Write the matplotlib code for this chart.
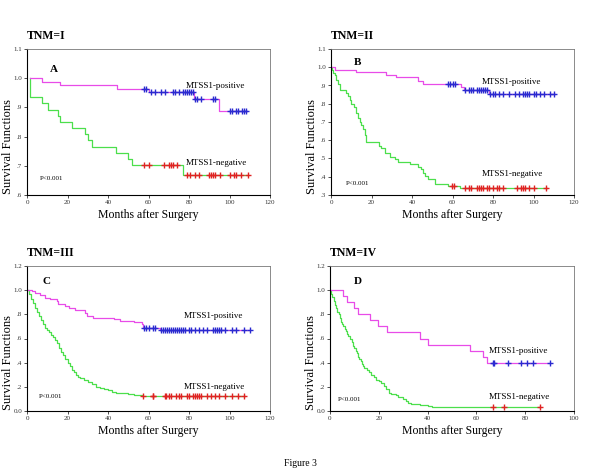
import matplotlib
matplotlib.use("Agg")
import matplotlib.pyplot as plt
import numpy as np

plt.rcParams['font.family'] = ['Liberation Serif', 'DejaVu Serif']

# ---- data ----
# panel A, TNM=I
A_pos_t = [1.5, 7.5, 16.3, 44.5, 60.0, 82.5, 95.0]
A_pos_s = [1.0, 0.988, 0.976, 0.964, 0.952, 0.929, 0.889]
A_pos_end = 108.5
A_pos_cens = [58, 59, 61, 63, 66, 68, 72, 73, 75, 77, 78, 79, 80, 81, 82,
              83, 84, 86, 92, 93, 100, 101, 103, 104, 106, 107, 108]
A_neg_t = [1.5, 1.6, 7.6, 10.5, 15.1, 16.3, 22.2, 28.6, 30.3, 31.9, 43.8,
           49.7, 51.7, 76.9]
A_neg_s = [1.0, 0.935, 0.914, 0.892, 0.870, 0.850, 0.830, 0.808, 0.788,
           0.766, 0.745, 0.723, 0.702, 0.667]
A_neg_end = 109.0
A_neg_cens = [58, 60, 67.5, 70, 71, 72, 74, 79, 80.5, 83, 85, 90, 91, 92,
              93, 95.5, 100, 102, 103, 105.5, 109]

# panel B, TNM=II
B_pos_t = [0, 1.8, 12.5, 27.3, 32.0, 43.0, 45.4, 64.0, 65.5, 78.0]
B_pos_s = [1.0, 0.986, 0.972, 0.958, 0.944, 0.925, 0.910, 0.890, 0.875, 0.853]
B_pos_end = 110.5
B_pos_cens = [58, 59, 60, 61, 66, 68, 69, 70, 72, 73, 74, 75, 76, 77, 78.5,
              80, 81, 83, 85, 88, 91, 93, 95, 96, 97, 98, 100, 101, 103, 105,
              108, 110]
B_neg_t = [0, 0.5, 1.0, 1.8, 2.6, 3.5, 4.3, 7.6, 8.4, 9.2, 10.0, 11.4, 12.5,
           13.3, 14.2, 15.0, 15.8, 16.6, 17.5, 23.8, 24.5, 26.5, 29.0, 31.4,
           33.1, 38.9, 43.0, 44.2, 45.4, 46.6, 47.9, 51.2, 58.0, 63.5]
B_neg_s = [1.0, 0.985, 0.97, 0.955, 0.93, 0.91, 0.877, 0.86, 0.84, 0.82,
           0.80, 0.78, 0.75, 0.72, 0.70, 0.685, 0.66, 0.63, 0.592, 0.57,
           0.555, 0.53, 0.51, 0.497, 0.483, 0.468, 0.455, 0.44, 0.42, 0.405,
           0.39, 0.36, 0.347, 0.336]
B_neg_end = 106.5
B_neg_cens = [59.7, 60.5, 66, 68, 69, 72, 73, 74, 75, 77, 78, 80, 82, 83, 85,
              92, 94, 95, 96, 98, 100, 106]

# panel C, TNM=III
C_pos_t = [0, 2.3, 4.0, 6.4, 8.9, 11.4, 14.6, 15.5, 18.8, 20.5, 23.7, 28.6,
           29.5, 32.8, 43.0, 46.0, 53.0, 56.6, 57.4, 65.7]
C_pos_s = [1.0, 0.989, 0.978, 0.964, 0.939, 0.93, 0.908, 0.885, 0.866, 0.852,
           0.838, 0.81, 0.785, 0.77, 0.76, 0.746, 0.737, 0.72, 0.69, 0.668]
C_pos_end = 110.0
C_pos_cens = [58, 59, 60, 62, 63, 66, 67, 68, 69, 70, 71, 72, 73, 74, 75, 76,
              77, 78, 80, 81, 83, 85, 87, 89, 92, 93, 94, 95, 96, 98, 101,
              103, 107, 110]
C_neg_t = [0, 1, 2, 3, 4, 5, 6, 7, 8, 9, 10, 11, 12, 13, 14, 15, 16, 17, 18,
           19, 20, 21, 22, 23, 24, 25, 26, 28, 30, 32, 34, 36, 38, 40, 42, 44,
           47, 50, 53, 57]
C_neg_s = [1.0, 0.97, 0.93, 0.89, 0.85, 0.82, 0.79, 0.75, 0.72, 0.69, 0.67,
           0.65, 0.63, 0.61, 0.59, 0.56, 0.52, 0.49, 0.46, 0.43, 0.40, 0.37,
           0.34, 0.32, 0.30, 0.285, 0.275, 0.26, 0.24, 0.22, 0.20, 0.19, 0.18,
           0.17, 0.16, 0.153, 0.145, 0.14, 0.134, 0.126]
C_neg_end = 107.5
C_neg_cens = [57.5, 62, 62.2, 68, 68.5, 70, 71, 73.5, 75, 76, 79, 80, 82, 83,
              84, 85, 86, 89, 91, 93, 95, 98, 101, 104, 107]

# panel D, TNM=IV
D_pos_t = [0, 5.5, 7.0, 9.8, 11.3, 16.2, 19.5, 23.5, 36.9, 40.1, 57.2, 62.8,
           64.3]
D_pos_s = [1.0, 0.95, 0.90, 0.85, 0.80, 0.75, 0.70, 0.65, 0.60, 0.55, 0.50,
           0.45, 0.40]
D_pos_end = 90.0
D_pos_cens = [66.8, 67.2, 72.8, 78.2, 80.8, 83.0, 90.0]
D_neg_t = [0, 0.5, 1.0, 1.5, 2.0, 2.5, 3.0, 3.5, 4.0, 4.5, 5.0, 5.5, 6.0,
           6.5, 7.0, 7.5, 8.0, 9.0, 9.5, 10.0, 10.5, 11.0, 11.5, 12.0, 12.5,
           13.0, 13.5, 14.0, 15.0, 16.0, 17.0, 18.0, 19.0, 20.0, 21.0, 22.0,
           23.0, 24.0, 25.0, 27.0, 28.0, 30.0, 31.0, 32.0, 33.0, 37.0, 40.0,
           42.0]
D_neg_s = [1.0, 0.97, 0.94, 0.91, 0.88, 0.85, 0.82, 0.80, 0.77, 0.74, 0.72,
           0.70, 0.68, 0.66, 0.64, 0.62, 0.60, 0.57, 0.54, 0.52, 0.50, 0.48,
           0.45, 0.43, 0.41, 0.39, 0.37, 0.36, 0.34, 0.32, 0.30, 0.28, 0.26,
           0.245, 0.23, 0.21, 0.18, 0.15, 0.14, 0.13, 0.12, 0.10, 0.085, 0.07,
           0.06, 0.05, 0.04, 0.03]
D_neg_end = 86.0
D_neg_cens = [67, 71.5, 86]

titles = ['TNM=I', 'TNM=II', 'TNM=III', 'TNM=IV']
letters = ['A', 'B', 'C', 'D']
yticks_AB = [[0.6, 0.7, 0.8, 0.9, 1.0, 1.1], [0.3, 0.4, 0.5, 0.6, 0.7, 0.8, 0.9, 1.0, 1.1]]
ylabels_AB = [['.6', '.7', '.8', '.9', '1.0', '1.1'],
              ['.3', '.4', '.5', '.6', '.7', '.8', '.9', '1.0', '1.1']]
yticks_CD = [0.0, 0.2, 0.4, 0.6, 0.8, 1.0, 1.2]
ylabels_CD = ['0.0', '.2', '.4', '.6', '.8', '1.0', '1.2']
xticks_120 = [0, 20, 40, 60, 80, 100, 120]
xticks_100 = [0, 20, 40, 60, 80, 100]

POS_LINE = '#e84ce8'
NEG_LINE = '#4cdf4c'
POS_CENS = '#2a2ad0'
NEG_CENS = '#e02222'


def km(ax, t, s, end, cens, lc, mc):
    xs = list(t) + [end]
    ys = list(s) + [s[-1]]
    ax.step(xs, ys, where='post', color=lc, lw=0.9)
    t_arr = np.array(t)
    idx = np.searchsorted(t_arr, cens, side='right') - 1
    cy = np.array(s)[idx]
    ax.plot(cens, cy, '+', color=mc, ms=5, mew=1.0, ls='none')


fig = plt.figure(figsize=(6.0, 4.73), dpi=100)

rects = [[27 / 600, 1 - 195 / 473, 243 / 600, 146 / 473],
         [331 / 600, 1 - 195 / 473, 243 / 600, 146 / 473],
         [27 / 600, 1 - 411 / 473, 243 / 600, 145 / 473],
         [330 / 600, 1 - 411 / 473, 244 / 600, 145 / 473]]

panels = [
    (A_pos_t, A_pos_s, A_pos_end, A_pos_cens, A_neg_t, A_neg_s, A_neg_end, A_neg_cens),
    (B_pos_t, B_pos_s, B_pos_end, B_pos_cens, B_neg_t, B_neg_s, B_neg_end, B_neg_cens),
    (C_pos_t, C_pos_s, C_pos_end, C_pos_cens, C_neg_t, C_neg_s, C_neg_end, C_neg_cens),
    (D_pos_t, D_pos_s, D_pos_end, D_pos_cens, D_neg_t, D_neg_s, D_neg_end, D_neg_cens),
]

# text positions in axes coords: letter, positive label, negative label, p value
txt_pos = [
    [(0.095, 0.86), (0.654, 0.747), (0.654, 0.219), (0.053, 0.116)],
    [(0.095, 0.91), (0.62, 0.774), (0.62, 0.144), (0.062, 0.082)],
    [(0.062, 0.89), (0.646, 0.655), (0.646, 0.166), (0.05, 0.097)],
    [(0.098, 0.89), (0.652, 0.414), (0.652, 0.097), (0.033, 0.076)],
]

for i in range(4):
    ax = fig.add_axes(rects[i])
    pt, ps, pe, pc, nt, ns, ne, nc = panels[i]
    km(ax, nt, ns, ne, nc, NEG_LINE, NEG_CENS)
    km(ax, pt, ps, pe, pc, POS_LINE, POS_CENS)

    if i < 2:
        ax.set_ylim(yticks_AB[i][0], yticks_AB[i][-1])
        ax.set_yticks(yticks_AB[i])
        ax.set_yticklabels(ylabels_AB[i])
    else:
        ax.set_ylim(0, 1.2)
        ax.set_yticks(yticks_CD)
        ax.set_yticklabels(ylabels_CD)
    if i == 3:
        ax.set_xlim(0, 100)
        ax.set_xticks(xticks_100)
    else:
        ax.set_xlim(0, 120)
        ax.set_xticks(xticks_120)

    ax.tick_params(labelsize=5, colors='#333333', length=2, width=0.6, pad=1.5)
    for sp in ['left', 'bottom']:
        ax.spines[sp].set_color('black')
        ax.spines[sp].set_linewidth(0.8)
    for sp in ['top', 'right']:
        ax.spines[sp].set_color('#777777')
        ax.spines[sp].set_linewidth(0.6)

    tp = txt_pos[i]
    ax.text(tp[0][0], tp[0][1], letters[i], transform=ax.transAxes,
            fontsize=8, fontweight='bold', va='center', ha='left')
    ax.text(tp[1][0], tp[1][1], 'MTSS1-positive', transform=ax.transAxes,
            fontsize=6.5, va='center', ha='left')
    ax.text(tp[2][0], tp[2][1], 'MTSS1-negative', transform=ax.transAxes,
            fontsize=6.5, va='center', ha='left')
    ax.text(tp[3][0], tp[3][1], 'P<0.001', transform=ax.transAxes,
            fontsize=5, va='center', ha='left')

    r = rects[i]
    cx = r[0] + r[2] / 2
    fig.text(r[0], r[1] + r[3] + 13 / 473, titles[i], fontsize=8.5,
             fontweight='bold', ha='left', va='center')
    fig.text(cx, r[1] - 20 / 473, 'Months after Surgery', fontsize=8.5,
             ha='center', va='center')
    fig.text(r[0] - 19 / 600, r[1] + r[3] / 2 - 24 / 473, 'Survival Functions',
             fontsize=9, rotation=90, ha='center', va='center')

fig.text(0.5, 1 - 463 / 473, 'Figure 3', fontsize=7, ha='center', va='center')

fig.savefig('out.png', dpi=100)
